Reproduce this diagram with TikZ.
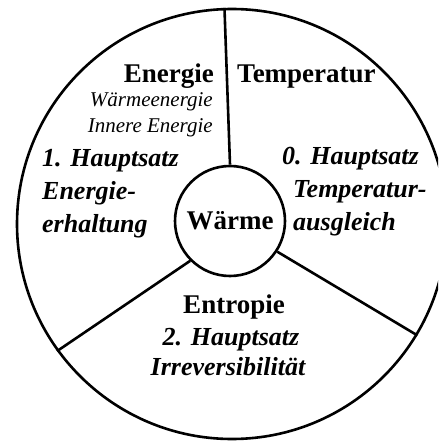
\documentclass[tikz,border=0pt]{standalone}
\usepackage{fontspec}
\setmainfont{Liberation Serif}
\usepackage{tikz}
\usetikzlibrary{positioning}
\tikzstyle{linie} = [line width=2.6pt, draw=black]
\tikzstyle{titel} = [inner sep=0pt, font=\fontsize{27}{32}\selectfont\bfseries]
\tikzstyle{satz} = [inner sep=0pt, font=\fontsize{26}{32}\selectfont\bfseries\itshape]
\tikzstyle{neben} = [inner sep=0pt, font=\fontsize{21}{26}\selectfont\itshape]

\begin{document}
\begin{tikzpicture}[x=1pt, y=-1pt]
    \useasboundingbox (0,0) rectangle (438,443);
    \clip (0,0) rectangle (438,443);

    % Rad und Nabe
    \node[linie, circle, minimum size=430pt, inner sep=0pt] (rad) at (232,224) {};
    \node[linie, circle, minimum size=110pt, titel] (waerme) at (230,221) {Wärme};

    % Speichen
    \draw[linie] (waerme.90) -- (rad.92);
    \draw[linie] (waerme.225) -- (rad.216.7);
    \draw[linie] (waerme.-33) -- (rad.-31.2);

    % Energie
    \node[titel, anchor=base east] (energie) at (214,83) {Energie};
    \node[neben, anchor=base east] (wenergie) at (213,107) {Wärmeenergie};
    \node[neben, anchor=base east] (ienergie) at (213,133) {Innere Energie};
    \node[satz, anchor=base west] (satz1) at (42,167) {1. Hauptsatz};
    \node[satz, anchor=base west] (erh1) at (42,200) {Energie-};
    \node[satz, anchor=base west] (erh2) at (42,232) {erhaltung};

    % Temperatur
    \node[titel, anchor=base west] (temp) at (237,83) {Temperatur};
    \node[satz, anchor=base west] (satz0) at (282,165) {0. Hauptsatz};
    \node[satz, anchor=base west] (ausg1) at (293,198) {Temperatur-};
    \node[satz, anchor=base west] (ausg2) at (293,230) {ausgleich};

    % Entropie
    \node[titel, anchor=base] (entropie) at (234,313) {Entropie};
    \node[satz, anchor=base] (satz2) at (231,345) {2. Hauptsatz};
    \node[satz, anchor=base] (irrev) at (228,375) {Irreversibilität};
\end{tikzpicture}
\end{document}
